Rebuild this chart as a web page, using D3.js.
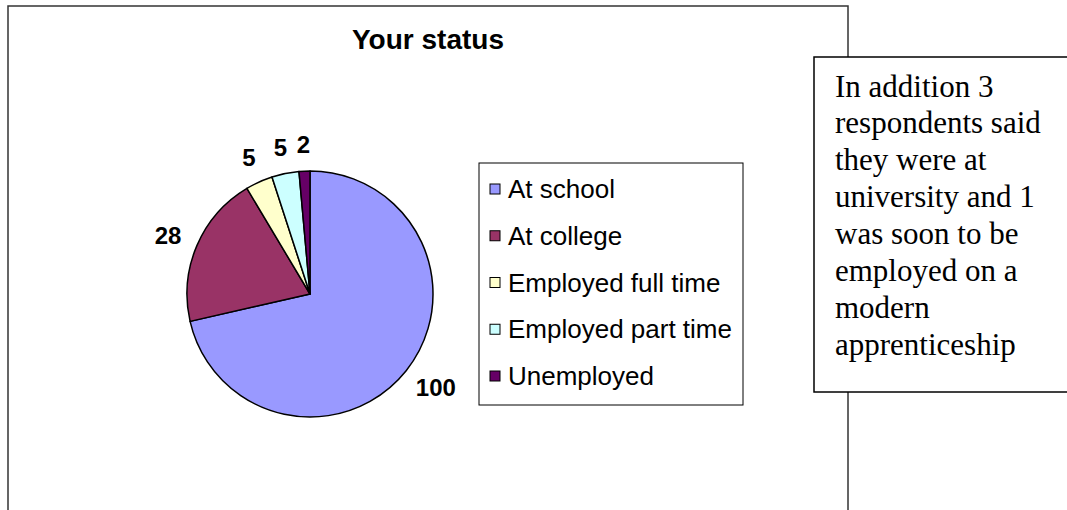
<!DOCTYPE html>
<html lang="en">
<head>
<meta charset="UTF-8">
<title>Your status</title>
<script src="https://d3js.org/d3.v7.min.js"></script>
<style>
    html, body { margin: 0; padding: 0; background: #fff; }
    svg { display: block; }
    .title { font-family: Arial, "Liberation Sans", sans-serif; font-weight: bold; font-size: 28px; }
    .label { font-family: Arial, "Liberation Sans", sans-serif; font-weight: bold; font-size: 24px; }
    .legend text { font-family: Arial, "Liberation Sans", sans-serif; font-size: 26px; }
    .note { font-family: "Times New Roman", "Liberation Serif", serif; font-size: 31px; }
</style>
</head>
<body>
<svg width="1067" height="510"></svg>
<script>
    // Values
    const categories = ["At school", "At college", "Employed full time", "Employed part time", "Unemployed"];
    const counts = [100, 28, 5, 5, 2];
    const noteLines = [
        "In addition 3",
        "respondents said",
        "they were at",
        "university and 1",
        "was soon to be",
        "employed on a",
        "modern",
        "apprenticeship"
    ];

    const svg = d3.select("svg");
    const cx = 310, cy = 294, radius = 123;

    const color = d3.scaleOrdinal()
        .domain(categories)
        .range(["#9999ff", "#993366", "#ffffcc", "#ccffff", "#660066"]);

    const data = categories.map((name, i) => ({ name, value: counts[i] }));

    // chart frame
    svg.append("rect")
        .attr("x", 8).attr("y", 6)
        .attr("width", 840).attr("height", 520)
        .attr("fill", "#fff")
        .attr("stroke", "#333")
        .attr("stroke-width", 1.5);

    svg.append("text")
        .attr("class", "title")
        .attr("x", 428).attr("y", 49)
        .attr("text-anchor", "middle")
        .text("Your status");

    // pie
    const pie = d3.pie().sort(null).value(d => d.value);
    const arc = d3.arc().innerRadius(0).outerRadius(radius);
    const arcs = pie(data);

    const g = svg.append("g").attr("transform", `translate(${cx},${cy})`);

    g.selectAll("path")
        .data(arcs)
        .join("path")
        .attr("d", arc)
        .attr("fill", d => color(d.data.name))
        .attr("stroke", "#000")
        .attr("stroke-width", 1.5)
        .attr("stroke-linejoin", "round");

    // data labels outside the slices, pushed out by half their box
    g.selectAll("text.label")
        .data(arcs)
        .join("text")
        .attr("class", "label")
        .attr("text-anchor", "middle")
        .attr("dominant-baseline", "central")
        .text(d => d.data.value)
        .each(function (d) {
            const a = (d.startAngle + d.endAngle) / 2;
            const w = this.getComputedTextLength();
            const h = 17;
            const sx = Math.sin(a), sy = -Math.cos(a);
            const x = sx * (radius + 18) + sx * w / 2;
            const y = sy * (radius + 18) + sy * h / 2;
            d3.select(this).attr("x", x).attr("y", y);
        });

    // legend
    const legend = svg.append("g").attr("class", "legend");
    legend.append("rect")
        .attr("x", 479).attr("y", 163)
        .attr("width", 264).attr("height", 242)
        .attr("fill", "#fff")
        .attr("stroke", "#000")
        .attr("stroke-width", 1);

    const rowY = d3.scalePoint().domain(categories).range([189, 376]);

    const rows = legend.selectAll("g.row")
        .data(categories)
        .join("g")
        .attr("class", "row")
        .attr("transform", d => `translate(0,${rowY(d)})`);

    rows.append("rect")
        .attr("x", 490).attr("y", -5)
        .attr("width", 10).attr("height", 10)
        .attr("fill", d => color(d))
        .attr("stroke", "#000")
        .attr("stroke-width", 1);

    rows.append("text")
        .attr("x", 508)
        .attr("y", 0)
        .attr("dominant-baseline", "central")
        .text(d => d);

    // note box on the right
    svg.append("rect")
        .attr("x", 814).attr("y", 57)
        .attr("width", 300).attr("height", 335)
        .attr("fill", "#fff")
        .attr("stroke", "#000")
        .attr("stroke-width", 1.5);

    const lineY = d3.scaleLinear().domain([0, noteLines.length - 1]).range([96.5, 354.8]);

    svg.append("g").selectAll("text")
        .data(noteLines)
        .join("text")
        .attr("class", "note")
        .attr("x", 835)
        .attr("y", (d, i) => lineY(i))
        .text(d => d);
</script>
</body>
</html>
